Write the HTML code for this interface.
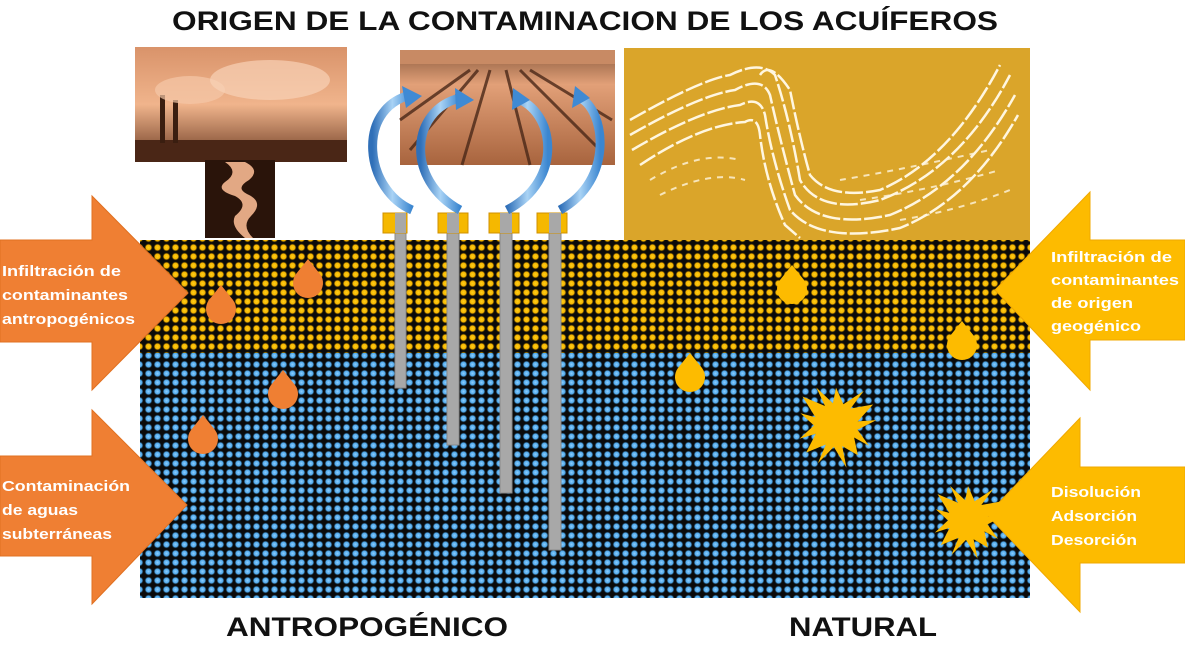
<!DOCTYPE html>
<html><head><meta charset="utf-8"><style>
body{margin:0;width:1185px;height:649px;overflow:hidden;background:#fff;font-family:"Liberation Sans",sans-serif}
svg{display:block}
</style></head><body>
<svg id="s" width="1185" height="649" viewBox="0 0 1185 649" xmlns="http://www.w3.org/2000/svg">
<defs>
<radialGradient id="gy"><stop offset="0" stop-color="#ffd21a"/><stop offset="0.6" stop-color="#f2b100"/><stop offset="1" stop-color="#000" stop-opacity="0"/></radialGradient>
<radialGradient id="gb"><stop offset="0" stop-color="#8fd0ff"/><stop offset="0.6" stop-color="#4ea6e8"/><stop offset="1" stop-color="#000" stop-opacity="0"/></radialGradient>
<pattern id="py" width="9" height="9" patternUnits="userSpaceOnUse"><rect width="9" height="9" fill="#0a0a0a"/><circle cx="4.5" cy="4.5" r="4.3" fill="url(#gy)"/></pattern>
<pattern id="pb" width="9" height="9" patternUnits="userSpaceOnUse"><rect width="9" height="9" fill="#0a0a0a"/><circle cx="4.5" cy="4.5" r="4.3" fill="url(#gb)"/></pattern>
<linearGradient id="sky" x1="0" y1="0" x2="0" y2="1"><stop offset="0" stop-color="#d9936a"/><stop offset="0.5" stop-color="#f0b48c"/><stop offset="1" stop-color="#6a3a22"/></linearGradient>
<linearGradient id="fld" x1="0" y1="0" x2="0" y2="1"><stop offset="0" stop-color="#8a5a3e"/><stop offset="0.3" stop-color="#e2a078"/><stop offset="1" stop-color="#a8643e"/></linearGradient>
<linearGradient id="arr" x1="0" y1="0" x2="1" y2="0"><stop offset="0" stop-color="#2f6fb8"/><stop offset="0.5" stop-color="#a9d3f5"/><stop offset="1" stop-color="#3b86d0"/></linearGradient>
</defs>
<text x="172" y="30" textLength="826" lengthAdjust="spacingAndGlyphs" font-size="27" font-weight="bold" fill="#111">ORIGEN DE LA CONTAMINACION DE LOS ACUÍFEROS</text>

<rect x="140" y="240" width="890" height="113" fill="url(#py)"/>
<rect x="140" y="353" width="890" height="245" fill="url(#pb)"/>

<rect x="135" y="47" width="212" height="115" fill="url(#sky)"/>
<rect x="135" y="140" width="212" height="22" fill="#4a2616"/>
<rect x="160" y="95" width="5" height="48" fill="#3a1e10"/><rect x="173" y="100" width="5" height="43" fill="#3a1e10"/>
<ellipse cx="190" cy="90" rx="35" ry="14" fill="#f5c8a8" opacity="0.7"/>
<ellipse cx="270" cy="80" rx="60" ry="20" fill="#f8d2b6" opacity="0.7"/>
<rect x="205" y="160" width="70" height="78" fill="#2a140a"/>
<path d="M225 162 q15 10 0 20 q-10 8 10 14 q15 8 0 20 q-5 10 10 22 h8 q-12-12 -2-22 q14-14 -4-22 q-12-6 2-14 q12-10 -4-18z" fill="#e2a884"/>

<rect x="400" y="50" width="215" height="115" fill="url(#fld)"/>
<rect x="400" y="50" width="215" height="14" fill="#c88a64"/>
<g stroke="#4a2818" stroke-width="3" fill="none" opacity="0.8">
<path d="M478 70 L410 150"/><path d="M490 70 L462 165"/><path d="M506 70 L530 165"/><path d="M520 70 L600 150"/><path d="M470 70 L400 120"/><path d="M530 70 L612 120"/>
</g>

<g fill="#a8a8a8" stroke="#8a8a8a"><rect x="395" y="214" width="11" height="174"/><rect x="447" y="214" width="12" height="231"/><rect x="500" y="214" width="12" height="279"/><rect x="549" y="214" width="12" height="336"/></g>
<g fill="#f5b800" stroke="#d09000">
<rect x="383" y="213" width="24" height="20"/><rect x="438" y="213" width="30" height="20"/><rect x="489" y="213" width="30" height="20"/><rect x="537" y="213" width="30" height="20"/></g>
<g fill="#a8a8a8"><rect x="395" y="213" width="11" height="20"/><rect x="447" y="213" width="12" height="20"/><rect x="500" y="213" width="12" height="20"/><rect x="549" y="213" width="12" height="20"/></g>

<g fill="none" stroke="url(#arr)" stroke-width="9">
<path d="M412 210 C365 190 355 110 410 95"/>
<path d="M460 210 C405 180 410 110 460 98"/>
<path d="M507 210 C565 180 555 110 515 98"/>
<path d="M560 210 C615 180 605 110 580 98"/>
</g>
<g fill="#3f8ad4">
<path d="M402 86 L422 96 L406 108z"/><path d="M455 88 L474 100 L456 110z"/><path d="M513 88 L530 100 L512 110z"/><path d="M575 86 L590 98 L572 108z"/>
</g>

<rect x="624" y="48" width="406" height="192" fill="#daa52a"/>
<g fill="none" stroke="#fff6e0" stroke-width="2.5" stroke-dasharray="18 3">
<path d="M630 120 Q700 80 730 75 Q760 60 775 75 Q790 120 800 180 Q820 215 880 200 Q960 170 1010 75"/>
<path d="M630 135 Q700 95 735 90 Q762 75 770 95 Q780 140 795 195 Q820 230 890 215 Q965 185 1015 95"/>
<path d="M632 150 Q700 110 740 105 Q760 95 765 115 Q772 160 790 210 Q820 245 900 228 Q970 200 1018 115"/>
<path d="M640 165 Q700 125 745 122 Q758 115 760 135 Q765 180 785 225 L800 238"/>
<path d="M760 75 Q770 60 790 90 Q800 140 810 175 Q830 200 880 190 Q950 160 1000 65"/>
</g>
<g fill="none" stroke="#fff6e0" stroke-width="2" stroke-dasharray="6 6" opacity="0.8">
<path d="M650 180 Q700 150 740 160"/><path d="M660 195 Q710 170 745 180"/><path d="M840 180 Q900 170 990 150"/><path d="M860 200 Q930 190 1000 170"/><path d="M900 220 Q960 210 1010 190"/>
</g>

<g fill="#ef7f33" stroke="#e07020">
<path d="M0 240 H92 V196 L188 293 L92 390 V342 H0z"/>
<path d="M0 456 H92 V410 L187 505 L92 604 V556 H0z"/>
</g>
<g fill="#fff" font-size="14.5" font-weight="bold">
<text x="2" y="276" textLength="119" lengthAdjust="spacingAndGlyphs">Infiltración de</text><text x="2" y="300" textLength="126" lengthAdjust="spacingAndGlyphs">contaminantes</text><text x="2" y="324" textLength="133" lengthAdjust="spacingAndGlyphs">antropogénicos</text>
<text x="2" y="491" textLength="128" lengthAdjust="spacingAndGlyphs">Contaminación</text><text x="2" y="515" textLength="76" lengthAdjust="spacingAndGlyphs">de aguas</text><text x="2" y="539" textLength="110" lengthAdjust="spacingAndGlyphs">subterráneas</text>
</g>

<g fill="#fdbb00" stroke="#f0a800">
<path d="M1185 240 H1090 V192 L995 290 L1090 390 V340 H1185z"/>
<path d="M1185 467 H1080 V418 L987 515 L1080 612 V563 H1185z"/>
</g>
<g fill="#fff" font-size="14.5" font-weight="bold">
<text x="1051" y="262" textLength="121" lengthAdjust="spacingAndGlyphs">Infiltración de</text><text x="1051" y="285" textLength="128" lengthAdjust="spacingAndGlyphs">contaminantes</text><text x="1051" y="308" textLength="82" lengthAdjust="spacingAndGlyphs">de origen</text><text x="1051" y="331" textLength="90" lengthAdjust="spacingAndGlyphs">geogénico</text>
<text x="1051" y="497" textLength="90" lengthAdjust="spacingAndGlyphs">Disolución</text><text x="1051" y="521" textLength="86" lengthAdjust="spacingAndGlyphs">Adsorción</text><text x="1051" y="545" textLength="86" lengthAdjust="spacingAndGlyphs">Desorción</text>
</g>

<g id="drops"></g>
<g id="stars" fill="#fdbb00"></g>

<text x="226" y="636" textLength="282" lengthAdjust="spacingAndGlyphs" font-size="27" font-weight="bold" fill="#111">ANTROPOGÉNICO</text>
<text x="789" y="636" textLength="148" lengthAdjust="spacingAndGlyphs" font-size="27" font-weight="bold" fill="#111">NATURAL</text>
</svg>
<script>
var NS="http://www.w3.org/2000/svg";
function drop(x,y,c){var p=document.createElementNS(NS,"path");
p.setAttribute("d","M"+x+" "+(y-19)+" L"+(x+12)+" "+(y-4)+" A15 15 0 1 1 "+(x-12)+" "+(y-4)+"Z");
p.setAttribute("fill",c);document.getElementById("drops").appendChild(p);}
[[308,278],[221,304],[283,389],[203,434]].forEach(function(d){drop(d[0],d[1],"#ef7f33")});
[[792,284],[962,340],[690,372]].forEach(function(d){drop(d[0],d[1],"#fdbb00")});
function star(cx,cy,R,r,n){var pts=[];for(var i=0;i<2*n;i++){var a=Math.PI*i/n-Math.PI/2+0.1*(i%3);var rr=i%2?r:R*(0.85+0.15*((i*7)%5)/4);pts.push((cx+rr*Math.cos(a)).toFixed(1)+","+(cy+rr*Math.sin(a)).toFixed(1));}
var p=document.createElementNS(NS,"polygon");p.setAttribute("points",pts.join(" "));document.getElementById("stars").appendChild(p);}
star(836,425,44,22,13);star(968,520,40,20,13);
</script>
</body></html>
